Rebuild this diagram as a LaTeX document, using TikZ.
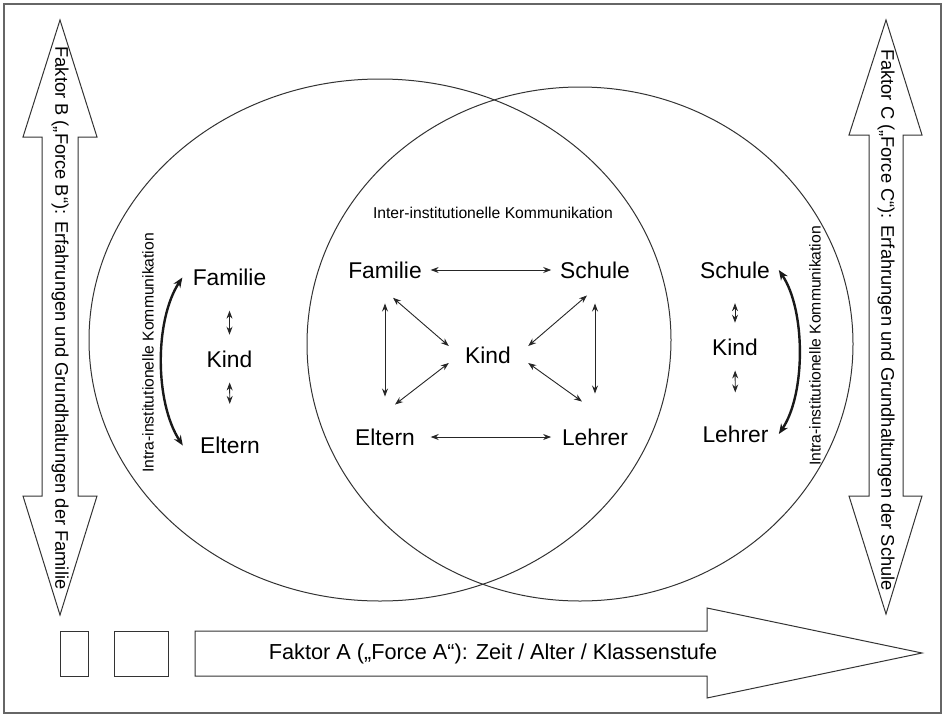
\documentclass[tikz,border=0pt]{standalone}
\usepackage{fontspec}
\setmainfont{Liberation Sans}
\usepackage{tikz}
\usetikzlibrary{arrows.meta,positioning,calc}

\begin{document}
\begin{tikzpicture}[x=0.5pt, y=-0.5pt,
    word/.style={font=\fontsize{11.4}{13}\selectfont, inner sep=1pt},
    tiny/.style={font=\fontsize{7.85}{9}\selectfont, inner sep=0pt},
    force/.style={font=\fontsize{9.15}{11}\selectfont, inner sep=0pt},
    outline/.style={draw=black!80, line width=0.5pt, line join=miter},
    link/.style={<->, >={Stealth[length=4pt,width=3pt]}, draw=black!85, line width=0.45pt},
    stubup/.style={link, shorten <=11.2pt, shorten >=7pt},
    stubdown/.style={link, shorten <=6.1pt, shorten >=15.4pt},
    bow/.style={<->, >={Stealth[length=5pt,width=4pt]}, draw=black!90, line width=1.2pt}
]
\useasboundingbox (0,0) rectangle (948,723);
% frame
\draw[black!60, line width=0.8pt] (4,4) rectangle (941,713);

% circles
\draw[outline] (380,340) ellipse [x radius=291, y radius=261];
\draw[outline] (580,344) ellipse [x radius=273, y radius=257];

% Faktor B
\draw[outline] (60,20) -- (97,137) -- (78,137) -- (78,496) -- (97,496) -- (60,615)
    -- (23,496) -- (42,496) -- (42,137) -- (23,137) -- cycle;
\node[force, rotate=-90] (forceB) at (60,318) {Faktor B („Force B“): Erfahrungen und Grundhaltungen der Familie};

% Faktor C
\draw[outline] (886,20) -- (922,135) -- (903,135) -- (903,496) -- (922,496) -- (886,614)
    -- (849,496) -- (869,496) -- (869,135) -- (849,135) -- cycle;
\node[force, rotate=-90] (forceC) at (886,320) {Faktor C („Force C“): Erfahrungen und Grundhaltungen der Schule};

% Faktor A
\draw[outline] (60,631) rectangle (88,676);
\draw[outline] (114,631) rectangle (168,676);
\draw[outline] (195,631) -- (707,631) -- (707,608) -- (922,653) -- (707,698) -- (707,676) -- (195,676) -- cycle;
\node[font=\fontsize{10.85}{13}\selectfont] (forceA) at (493,654) {Faktor A („Force A“): Zeit / Alter / Klassenstufe};

% Familie (left)
\node[tiny, rotate=90] (intraL) at (148,353) {Intra-institutionelle Kommunikation};
\node[word] (famL) at (229.5,277.5) {Familie};
\node[word] (kindL) at (229.5,359.5) {Kind};
\node[word] (eltL) at (230,445.5) {Eltern};
\draw[stubup] (famL) -- (kindL);
\draw[stubdown] (kindL) -- (eltL);
\draw[bow] ([xshift=-4pt]famL.west) .. controls +(-28,43) and +(-28,-43) .. ([xshift=-7.5pt]eltL.west);

% Schule (right)
\node[tiny, rotate=90] (intraR) at (815,346) {Intra-institutionelle Kommunikation};
\node[word] (schR) at (735,270) {Schule};
\node[word] (kindR) at (735,347.5) {Kind};
\node[word] (lehR) at (735.5,434) {Lehrer};
\draw[stubup] (schR) -- (kindR);
\draw[stubdown] (kindR) -- (lehR);
\draw[bow] ([xshift=3.25pt]schR.east) .. controls +(27,40) and +(27,-40) .. ([xshift=4pt]lehR.east);

% Inter-institutionell (middle)
\node[tiny] (inter) at (493,213) {Inter-institutionelle Kommunikation};
\node[word] (famM) at (385,270) {Familie};
\node[word] (schM) at (595,270) {Schule};
\node[word] (kindM) at (488,355) {Kind};
\node[word] (eltM) at (385,437) {Eltern};
\node[word] (lehM) at (595,437) {Lehrer};
\draw[link, shorten <=3.25pt, shorten >=3.25pt] (famM) -- (schM);
\draw[link, shorten <=6.75pt, shorten >=4.25pt] (eltM) -- (lehM);
\draw[link, shorten <=11.35pt, shorten >=14.85pt] (famM) -- (eltM);
\draw[link, shorten <=11.35pt, shorten >=16.35pt] (schM) -- (lehM);
\draw[link] ([shift={(8,17)}]famM.south) -- ([shift={(-14,-9)}]kindM.west);
\draw[link] ([shift={(10,-21.7)}]eltM.north) -- ([shift={(-14,8)}]kindM.west);
\draw[link] ([shift={(-8,14.7)}]schM.south) -- ([shift={(15,-9)}]kindM.east);
\draw[link] ([shift={(-13,-24.7)}]lehM.north) -- ([shift={(15,8)}]kindM.east);

\end{tikzpicture}
\end{document}
